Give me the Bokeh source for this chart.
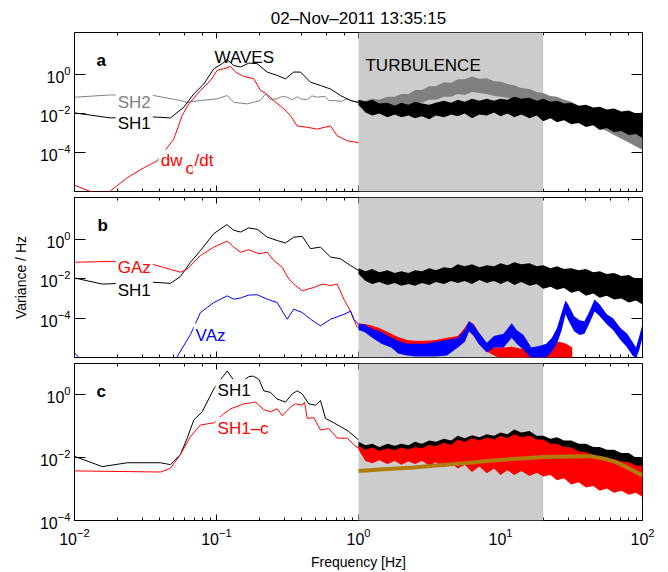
from bokeh.plotting import figure
from bokeh.layouts import column
from bokeh.models import (LogAxis, FixedTicker, LogTicker, BoxAnnotation, Label,
                          Range1d, CustomJSTickFormatter)
from bokeh.embed import file_html
from bokeh.resources import INLINE

FONT = "Liberation Sans"

# ---------------- data ----------------
TITLE = "02\u2013Nov\u20132011 13:35:15"
X_RANGE = (0.01, 100.0)
TURBULENCE_BAND = (1.0, 20.0)
Y_TICKS = [1e-4, 1e-2, 1.0]
YLIM_AB = (1e-6, 141.0)
YLIM_C = (1e-4, 10.0)

# frequencies at which the envelopes of the dense (noisy) spectra above 1 Hz were read
turb_f = [1.0, 1.12, 1.25, 1.4, 1.6, 1.8, 2.0, 2.25, 2.5, 2.8, 3.15, 3.5, 4.0, 4.5, 5.0, 5.6,
          6.3, 7.1, 8.0, 9.0, 10, 11.2, 12.5, 14, 16, 18, 20, 22.5, 25, 28, 31.5, 35.5, 40,
          45, 50, 56, 63, 71, 80, 90, 100]

# panel a -- SH1 (black)
a_sh1_f = [0.0100, 0.0179, 0.0361, 0.0474, 0.0589, 0.0692, 0.0815, 0.0957, 0.1096, 0.1189,
           0.1324, 0.1476, 0.1687, 0.1936, 0.2275, 0.2673, 0.3062, 0.3499, 0.3908, 0.4592,
           0.5395, 0.6353, 0.7464, 0.8790, 1.0]
a_sh1_v = [1.07e-2, 5.9e-3, 6.6e-3, 5.9e-3, 2.1e-2, 0.10, 0.33, 1.95, 3.55, 5.75,
           2.88, 2.40, 3.80, 3.55, 1.32, 0.89, 0.60, 1.32, 1.32, 0.40,
           0.27, 0.18, 0.083, 0.046, 0.037]
a_sh1_hi = [5.0e-2, 4.0e-2, 5.0e-2, 3.2e-2, 3.5e-2, 2.5e-2, 3.5e-2, 2.8e-2, 4.0e-2, 3.2e-2,
            2.8e-2, 3.5e-2, 4.5e-2, 3.5e-2, 5.0e-2, 4.0e-2, 5.6e-2, 4.5e-2, 5.6e-2, 4.5e-2,
            5.6e-2, 5.0e-2, 7.1e-2, 5.6e-2, 6.3e-2, 4.5e-2, 5.6e-2, 4.0e-2, 4.5e-2, 3.2e-2,
            3.5e-2, 2.5e-2, 2.8e-2, 2.0e-2, 2.2e-2, 1.6e-2, 1.8e-2, 1.26e-2, 1.4e-2, 1.0e-2,
            1.12e-2]
a_sh1_lo = [2.8e-2, 1.12e-2, 7.9e-3, 1.0e-2, 6.3e-3, 8.9e-3, 6.3e-3, 7.9e-3, 5.6e-3, 7.1e-3,
            5.0e-3, 7.9e-3, 6.3e-3, 8.9e-3, 7.1e-3, 1.0e-2, 5.6e-3, 8.9e-3, 7.9e-3, 1.12e-2,
            7.1e-3, 1.0e-2, 6.3e-3, 8.9e-3, 5.6e-3, 7.9e-3, 4.0e-3, 5.6e-3, 3.5e-3, 4.5e-3,
            2.8e-3, 3.2e-3, 2.0e-3, 2.5e-3, 1.4e-3, 1.8e-3, 1.12e-3, 1.26e-3, 7.9e-4, 8.9e-4,
            5.6e-4]

# panel a -- SH2 (grey)
a_sh2_f = [0.0100, 0.0179, 0.0361, 0.0557, 0.0622, 0.0771, 0.1012, 0.1189, 0.1324, 0.1644,
           0.2042, 0.2213, 0.2400, 0.2673, 0.2900, 0.3148, 0.3400, 0.3700, 0.3908, 0.4300,
           0.4700, 0.5117, 0.5800, 0.6200, 0.6699, 0.7600, 0.8318, 0.9300, 1.0]
a_sh2_v = [0.068, 0.089, 0.083, 0.046, 0.037, 0.046, 0.056, 0.083, 0.037, 0.031,
           0.046, 0.10, 0.052, 0.056, 0.075, 0.068, 0.050, 0.072, 0.056, 0.050,
           0.080, 0.068, 0.075, 0.045, 0.046, 0.042, 0.056, 0.040, 0.037]
a_sh2_hi = [5.0e-2, 4.5e-2, 5.6e-2, 5.0e-2, 7.1e-2, 7.1e-2, 0.10, 0.10, 0.16, 0.16,
            0.25, 0.25, 0.40, 0.38, 0.56, 0.56, 0.79, 0.60, 0.63, 0.45,
            0.42, 0.32, 0.28, 0.20, 0.18, 0.126, 0.112, 7.9e-2, 7.1e-2, 5.0e-2,
            4.0e-2, 2.5e-2, 2.0e-2, 1.26e-2, 1.0e-2, 6.3e-3, 5.0e-3, 3.2e-3, 2.2e-3, 1.4e-3,
            1.0e-3]
a_sh2_lo = [2.5e-2, 1.8e-2, 2.0e-2, 1.66e-2, 2.2e-2, 2.0e-2, 2.8e-2, 2.5e-2, 3.5e-2, 3.5e-2,
            5.0e-2, 5.0e-2, 7.1e-2, 7.1e-2, 0.10, 8.9e-2, 0.126, 0.112, 0.10, 7.9e-2,
            7.1e-2, 6.3e-2, 5.0e-2, 4.5e-2, 3.5e-2, 3.2e-2, 2.8e-2, 2.0e-2, 1.8e-2, 1.26e-2,
            8.9e-3, 5.6e-3, 4.0e-3, 2.5e-3, 1.8e-3, 1.26e-3, 7.9e-4, 5.0e-4, 3.2e-4, 2.0e-4,
            1.4e-4]

# panel a -- dw0/dt (red)
a_dw_f = [0.0100, 0.0133, 0.0175, 0.0235, 0.0308, 0.0382, 0.0500, 0.0573, 0.0638, 0.0771,
          0.0908, 0.1012, 0.1125, 0.1256, 0.1361, 0.1556, 0.1832, 0.2042, 0.2213, 0.2535,
          0.2979, 0.3319, 0.3698, 0.4355, 0.5117, 0.6353, 0.7079, 0.8318, 1.0]
a_dw_v = [2.1e-6, 9.3e-7, 9.3e-7, 5.1e-6, 1.66e-5, 3.7e-5, 4.9e-4, 7.8e-3, 3.1e-2, 0.15,
          0.49, 1.62, 1.95, 2.57, 1.32, 0.79, 0.60, 0.15, 0.11, 0.046,
          0.017, 7.8e-3, 2.3e-3, 1.95e-3, 1.58e-3, 2.3e-3, 7.2e-4, 4.0e-4, 3.2e-4]

# panel b -- SH1 (black)
b_sh1_f = [0.0100, 0.0157, 0.0361, 0.0474, 0.0557, 0.0656, 0.0771, 0.0957, 0.1182, 0.1324,
           0.1476, 0.1687, 0.1936, 0.2275, 0.2673, 0.3062, 0.3499, 0.4018, 0.4592, 0.5395,
           0.6353, 0.7464, 0.8790, 1.0]
b_sh1_v = [1.12e-2, 5.5e-3, 6.8e-3, 6.0e-3, 1.32e-2, 7.1e-2, 0.28, 2.04, 5.9, 3.02,
           2.45, 3.98, 3.39, 1.35, 0.91, 0.68, 1.35, 1.48, 0.35, 0.42,
           0.13, 0.107, 0.048, 0.027]
b_sh1_hi = [3.5e-2, 2.5e-2, 3.2e-2, 2.2e-2, 2.8e-2, 2.0e-2, 2.5e-2, 2.0e-2, 2.8e-2, 2.5e-2,
            3.5e-2, 2.8e-2, 4.0e-2, 3.5e-2, 5.6e-2, 4.5e-2, 5.6e-2, 4.0e-2, 5.0e-2, 4.5e-2,
            6.3e-2, 5.0e-2, 7.1e-2, 5.6e-2, 6.3e-2, 4.5e-2, 5.0e-2, 3.5e-2, 4.5e-2, 3.2e-2,
            3.5e-2, 2.8e-2, 3.2e-2, 2.2e-2, 2.5e-2, 1.8e-2, 2.0e-2, 1.4e-2, 1.6e-2, 1.0e-2,
            1.12e-2]
b_sh1_lo = [1.8e-2, 7.9e-3, 5.6e-3, 7.1e-3, 5.0e-3, 6.3e-3, 4.5e-3, 5.6e-3, 4.5e-3, 6.3e-3,
            5.0e-3, 7.1e-3, 5.6e-3, 7.9e-3, 6.3e-3, 7.9e-3, 5.6e-3, 8.9e-3, 6.3e-3, 7.9e-3,
            5.6e-3, 7.9e-3, 5.0e-3, 7.1e-3, 4.5e-3, 5.6e-3, 3.2e-3, 4.0e-3, 2.8e-3, 3.5e-3,
            2.0e-3, 2.5e-3, 1.4e-3, 1.8e-3, 1.12e-3, 1.4e-3, 8.9e-4, 1.0e-3, 6.3e-4, 7.9e-4,
            5.0e-4]

# panel b -- GAz (red)
b_gaz_f = [0.0100, 0.0185, 0.0361, 0.0557, 0.0622, 0.0771, 0.0957, 0.1189, 0.1324, 0.1476,
           0.1687, 0.1986, 0.2275, 0.2535, 0.2904, 0.3228, 0.3597, 0.4018, 0.4842, 0.5546,
           0.6353, 0.7079, 0.7889, 0.8790, 0.9795]
b_gaz_v = [0.071, 0.079, 0.054, 0.022, 0.032, 0.155, 0.42, 0.85, 0.42, 0.23,
           0.31, 0.19, 0.23, 0.087, 0.039, 0.010, 4.6e-3, 2.5e-3, 3.7e-3, 5.5e-3,
           4.6e-3, 5.5e-3, 9.3e-4, 2.3e-4, 3.3e-5]
b_gaz_band_f = [1.0, 1.2, 1.4, 1.6, 1.9, 2.2, 2.5, 3.0, 3.5, 4.2, 5.0, 5.6, 6.0, 6.5, 7.0, 8.0,
                9.0, 10.5, 12, 14, 16, 18, 20, 23, 26, 29, 32]
b_gaz_hi = [5.6e-5, 4.5e-5, 3.2e-5, 2.0e-5, 1.12e-5, 7.9e-6, 7.1e-6, 7.1e-6, 7.9e-6, 1.0e-5,
            1.26e-5, 3.2e-5, 7.1e-5, 5.0e-5, 2.0e-5, 5.0e-6, 3.2e-6, 3.2e-6, 3.5e-6, 2.8e-6,
            2.5e-6, 2.2e-6, 3.2e-6, 5.0e-6, 6.3e-6, 5.0e-6, 3.2e-6]
b_gaz_lo = [3.2e-5, 1.6e-5, 1.0e-5, 6.3e-6, 4.0e-6, 2.8e-6, 2.5e-6, 2.2e-6, 2.5e-6, 3.2e-6,
            3.5e-6, 6.3e-6, 2.2e-5, 1.26e-5, 6.3e-6, 2.0e-6, 1.26e-6, 8e-7, 8e-7, 8e-7,
            8e-7, 8e-7, 8e-7, 8e-7, 8e-7, 8e-7, 8e-7]

# panel b -- VAz (blue)
b_vaz_f = [0.0100, 0.0110, 0.0514, 0.0656, 0.0771, 0.0957, 0.1189, 0.1324, 0.1476, 0.1687,
           0.1936, 0.2275, 0.2673, 0.3148, 0.3499, 0.4018, 0.4592, 0.5395, 0.6353, 0.7889,
           0.8790, 0.9268, 1.0]
b_vaz_v = [1.74e-6, 8e-7, 8e-7, 1.5e-5, 1.95e-4, 6.3e-4, 1.38e-3, 9.3e-4, 1.07e-3, 1.51e-3,
           1.58e-3, 9.3e-4, 6.3e-4, 8.9e-5, 2.9e-4, 1.95e-4, 8.9e-5, 4.1e-5, 8.9e-5, 1.58e-4,
           2.3e-4, 8.9e-5, 4.9e-5]
b_vaz_band_f = [1.0, 1.1, 1.25, 1.45, 1.7, 1.9, 2.2, 2.5, 3.0, 3.5, 4.2, 5.0, 5.6, 6.0, 6.4,
                7.0, 8.0, 9.0, 10.5, 12, 13, 14.5, 16.5, 19, 21, 23, 25, 27, 28.7, 30,
                33, 36, 39, 42, 46, 50, 56, 62, 70, 78, 85, 90, 95, 100]
b_vaz_hi = [5.0e-5, 5.0e-5, 2.8e-5, 2.0e-5, 1.0e-5, 7.1e-6, 5.0e-6, 5.0e-6, 5.0e-6, 6.3e-6,
            7.9e-6, 1.0e-5, 2.5e-5, 7.1e-5, 5.0e-5, 2.0e-5, 5.6e-6, 1.26e-5, 1.6e-5, 5.6e-5,
            2.5e-5, 1.4e-5, 3.2e-6, 4.0e-6, 5.0e-6, 1.0e-5, 3.2e-5, 2.0e-4, 7.9e-4, 5.0e-4,
            1.26e-4, 7.9e-5, 7.1e-5, 2.0e-4, 8.9e-4, 5.0e-4, 1.6e-4, 1.0e-4, 3.2e-5, 1.6e-5,
            6.3e-6, 3.2e-6, 1.26e-5, 5.0e-5]
b_vaz_lo = [2.5e-5, 2.0e-5, 1.0e-5, 5.0e-6, 3.2e-6, 1.6e-6, 1.26e-6, 1.12e-6, 1.12e-6, 1.12e-6,
            1.26e-6, 3.2e-6, 6.3e-6, 2.2e-5, 1.4e-5, 5.0e-6, 1.8e-6, 3.2e-6, 3.2e-6, 1.0e-5,
            5.0e-6, 2.5e-6, 8.9e-7, 8.9e-7, 1.0e-6, 2.0e-6, 5.0e-6, 2.5e-5, 1.6e-4, 7.9e-5,
            2.2e-5, 1.4e-5, 1.6e-5, 5.0e-5, 2.2e-4, 1.26e-4, 5.0e-5, 2.5e-5, 7.9e-6, 3.2e-6,
            1.26e-6, 8.9e-7, 2.5e-6, 1.0e-5]

# panel c -- SH1 (black)
c_sh1_f = [0.0100, 0.0157, 0.0235, 0.0404, 0.0474, 0.0557, 0.0622, 0.0692, 0.0793, 0.0957,
           0.1096, 0.1189, 0.1324, 0.1476, 0.1687, 0.1811, 0.1986, 0.2153, 0.2399, 0.2673,
           0.3062, 0.3412, 0.3698, 0.4018, 0.4467, 0.4977, 0.5395, 0.5861, 0.6531, 0.7464,
           0.8551, 1.0]
c_sh1_v = [1.1e-2, 5.2e-3, 6.9e-3, 6.9e-3, 6.0e-3, 1.26e-2, 4.2e-2, 0.158, 0.29, 1.55,
           3.55, 5.75, 2.9, 2.4, 3.8, 3.98, 3.16, 1.35, 1.2, 0.74,
           0.59, 1.07, 1.35, 1.07, 0.52, 0.47, 0.66, 0.178, 0.138, 0.098,
           0.068, 0.037]
c_sh1_hi = [3.2e-2, 2.5e-2, 2.8e-2, 2.2e-2, 2.8e-2, 2.4e-2, 2.8e-2, 2.5e-2, 3.2e-2, 2.8e-2,
            3.5e-2, 3.2e-2, 4.0e-2, 3.5e-2, 5.0e-2, 4.2e-2, 5.2e-2, 4.5e-2, 5.6e-2, 5.0e-2,
            6.3e-2, 5.6e-2, 7.9e-2, 6.3e-2, 7.1e-2, 5.0e-2, 5.0e-2, 4.0e-2, 4.5e-2, 3.5e-2,
            3.5e-2, 2.8e-2, 2.8e-2, 2.2e-2, 2.2e-2, 1.8e-2, 1.8e-2, 1.4e-2, 1.4e-2, 1.0e-2,
            1.0e-2]
c_sh1_lo = [2.2e-2, 1.12e-2, 8.9e-3, 1.12e-2, 8.3e-3, 1.05e-2, 8.3e-3, 1.0e-2, 8.3e-3, 1.05e-2,
            8.9e-3, 1.12e-2, 9.3e-3, 1.2e-2, 1.0e-2, 1.2e-2, 1.0e-2, 1.26e-2, 1.05e-2, 1.26e-2,
            1.05e-2, 1.2e-2, 1.0e-2, 1.17e-2, 8.9e-3, 1.05e-2, 7.9e-3, 8.9e-3, 6.6e-3, 7.6e-3,
            5.6e-3, 6.3e-3, 4.7e-3, 5.2e-3, 3.8e-3, 4.2e-3, 3.0e-3, 3.2e-3, 2.2e-3, 2.4e-3,
            1.58e-3]

# panel c -- SH1-c (red)
c_sh1c_f = [0.0100, 0.0404, 0.0474, 0.0557, 0.0656, 0.0771, 0.0957, 0.1125, 0.1256, 0.1556,
            0.1884, 0.2153, 0.2399, 0.2673, 0.2904, 0.3319, 0.3597, 0.4018, 0.4169, 0.4355,
            0.4842, 0.5395, 0.6180, 0.7079, 0.8318, 0.9268, 1.0]
c_sh1c_v = [3.8e-3, 3.5e-3, 4.6e-3, 1.26e-2, 4.7e-2, 0.11, 0.129, 0.25, 0.36, 0.52,
            0.59, 0.34, 0.29, 0.36, 0.22, 0.41, 0.52, 0.47, 0.59, 0.178,
            0.19, 0.076, 0.085, 0.042, 0.042, 0.026, 0.020]
c_sh1c_hi = [2.4e-2, 1.8e-2, 2.1e-2, 1.66e-2, 2.0e-2, 1.74e-2, 2.1e-2, 1.82e-2, 2.2e-2, 2.0e-2,
             2.6e-2, 2.3e-2, 3.0e-2, 2.6e-2, 3.8e-2, 3.2e-2, 4.2e-2, 3.5e-2, 4.4e-2, 3.8e-2,
             5.0e-2, 4.2e-2, 5.6e-2, 4.6e-2, 5.0e-2, 3.8e-2, 3.8e-2, 2.8e-2, 2.8e-2, 2.2e-2,
             2.1e-2, 1.58e-2, 1.5e-2, 1.2e-2, 1.12e-2, 9.5e-3, 8.9e-3, 7.6e-3, 7.1e-3, 5.6e-3,
             5.6e-3]
c_sh1c_lo = [1.8e-2, 7.9e-3, 6.6e-3, 8.3e-3, 6.3e-3, 7.9e-3, 6.0e-3, 7.6e-3, 6.3e-3, 7.9e-3,
             5.6e-3, 7.1e-3, 5.0e-3, 6.6e-3, 4.5e-3, 6.0e-3, 3.5e-3, 5.2e-3, 3.2e-3, 4.5e-3,
             2.8e-3, 4.0e-3, 2.8e-3, 3.8e-3, 2.6e-3, 3.3e-3, 2.5e-3, 2.8e-3, 1.9e-3, 2.2e-3,
             1.4e-3, 1.66e-3, 1.12e-3, 1.26e-3, 8.9e-4, 1.05e-3, 7.6e-4, 8.9e-4, 6.6e-4, 7.6e-4,
             5.6e-4]

# panel c -- model fit (brown)
c_fit_f = [1.0, 1.5, 2.45, 3.5, 5.5, 8.0, 13.1, 20.2, 30, 43, 56, 65, 74, 85, 100]
c_fit_v = [3.8e-3, 4.3e-3, 4.9e-3, 5.6e-3, 6.6e-3, 7.9e-3, 9.3e-3, 1.05e-2, 1.1e-2, 1.12e-2,
           8.9e-3, 7.2e-3, 5.5e-3, 4.0e-3, 2.7e-3]

BLACK, GREY, RED, BLUE, BROWN = "black", "#808080", "#ff0000", "#0000ff", "#b07d0c"
EMPTY = "return '';"


def style_axis(ax, major_in, minor_in, labels):
    ax.major_tick_in = major_in
    ax.major_tick_out = 0
    ax.minor_tick_in = minor_in
    ax.minor_tick_out = 0
    ax.axis_line_color = "black"
    ax.major_tick_line_color = "black"
    ax.minor_tick_line_color = "black"
    ax.major_label_text_font = FONT
    ax.major_label_text_font_size = "16px"
    ax.major_label_text_color = "black"
    ax.axis_label_text_font = FONT
    ax.axis_label_text_font_size = "14px"
    ax.axis_label_text_font_style = "normal"
    ax.axis_label_text_color = "black"
    if not labels:
        ax.formatter = CustomJSTickFormatter(code=EMPTY)
        ax.major_label_standoff = 0
        ax.level = "image"   # tick-only axis: painted beneath the shaded band


def make_panel(height, ylim, top, bottom, title=None):
    p = figure(width=668, height=height, x_axis_type="log", y_axis_type="log",
               x_range=Range1d(*X_RANGE), y_range=Range1d(*ylim),
               output_backend="svg", toolbar_location=None,
               min_border_left=74, min_border_right=26,
               min_border_top=top, min_border_bottom=bottom, title=title)
    p.grid.visible = False
    p.outline_line_color = "black"
    p.outline_line_alpha = 1.0
    p.border_fill_color = "white"
    p.background_fill_color = "white"
    yl = p.left[0]
    yl.ticker = FixedTicker(ticks=Y_TICKS, minor_ticks=[])
    style_axis(yl, 11, 0, True)
    yl.major_label_standoff = 4
    yr = LogAxis(ticker=FixedTicker(ticks=Y_TICKS, minor_ticks=[]))
    style_axis(yr, 11, 0, False)
    p.add_layout(yr, "right")
    xb = p.below[0]
    style_axis(xb, 6, 3, False)
    xt = LogAxis(ticker=LogTicker())
    style_axis(xt, 6, 3, False)
    p.add_layout(xt, "above")
    p.add_layout(BoxAnnotation(left=TURBULENCE_BAND[0], right=TURBULENCE_BAND[1],
                               fill_color="#cccccc", fill_alpha=1.0, line_color=None,
                               level="underlay"))
    return p


def add_label(p, x, y, text, color="black", bg=True, bold=False, size="17px"):
    lab = Label(x=x, y=y, text=text, text_color=color, text_font=FONT,
                text_font_size=size, text_baseline="alphabetic", text_align="left",
                text_font_style="bold" if bold else "normal")
    if bg:
        lab.background_fill_color = "white"
        lab.background_fill_alpha = 1.0
        lab.padding = 2
    p.add_layout(lab)


# ---------------- panel a ----------------
pa = make_panel(194, YLIM_AB, 32, 3, title=TITLE)
pa.title.align = "center"
pa.title.text_font = FONT
pa.title.text_font_size = "17px"
pa.title.text_font_style = "normal"
pa.title.text_color = "black"
pa.varea(x=turb_f, y1=a_sh2_lo, y2=a_sh2_hi, fill_color=GREY)
pa.line(a_sh2_f, a_sh2_v, line_color=GREY, line_width=1)
pa.varea(x=turb_f, y1=a_sh1_lo, y2=a_sh1_hi, fill_color=BLACK)
pa.line(a_sh1_f, a_sh1_v, line_color=BLACK, line_width=1)
pa.line(a_dw_f, a_dw_v, line_color=RED, line_width=1)
add_label(pa, 0.0143, 5.2, "a", bg=False, bold=True)
add_label(pa, 0.0968, 7.6, "WAVES", bg=False)
add_label(pa, 1.12, 2.9, "TURBULENCE", bg=False)
add_label(pa, 0.0195, 0.036, "SH2", color=GREY)
add_label(pa, 0.0195, 2.96e-3, "SH1")
add_label(pa, 0.0392, 3.7e-5, "dw", color=RED)
add_label(pa, 0.0586, 1.6e-5, "o", color=RED)
add_label(pa, 0.0678, 3.7e-5, "/dt", color=RED)

# ---------------- panel b ----------------
pb = make_panel(166, YLIM_AB, 3, 3)
pb.left[0].axis_label = "Variance / Hz"
pb.left[0].axis_label_standoff = 8
pb.varea(x=turb_f, y1=b_sh1_lo, y2=b_sh1_hi, fill_color=BLACK)
pb.line(b_sh1_f, b_sh1_v, line_color=BLACK, line_width=1)
pb.varea(x=b_gaz_band_f, y1=b_gaz_lo, y2=b_gaz_hi, fill_color=RED)
pb.line(b_gaz_f, b_gaz_v, line_color=RED, line_width=1)
pb.varea(x=b_vaz_band_f, y1=b_vaz_lo, y2=b_vaz_hi, fill_color=BLUE)
pb.line(b_vaz_f, b_vaz_v, line_color=BLUE, line_width=1)
add_label(pb, 0.0145, 5.4, "b", bg=False, bold=True)
add_label(pb, 0.0195, 0.038, "GAz", color=RED)
add_label(pb, 0.0195, 2.5e-3, "SH1")
add_label(pb, 0.0690, 1.38e-5, "VAz", color=BLUE)

# ---------------- panel c ----------------
pc = make_panel(212, YLIM_C, 3, 50)
xlab = LogAxis(ticker=LogTicker(), axis_label="Frequency [Hz]")
style_axis(xlab, 0, 0, True)
xlab.axis_line_color = None
xlab.major_tick_line_color = None
xlab.minor_tick_line_color = None
xlab.major_label_standoff = 7
xlab.axis_label_standoff = 6
pc.add_layout(xlab, "below")
pc.varea(x=turb_f, y1=c_sh1_lo, y2=c_sh1_hi, fill_color=BLACK)
pc.line(c_sh1_f, c_sh1_v, line_color=BLACK, line_width=1)
pc.varea(x=turb_f, y1=c_sh1c_lo, y2=c_sh1c_hi, fill_color=RED)
pc.line(c_sh1c_f, c_sh1c_v, line_color=RED, line_width=1)
pc.line(c_fit_f, c_fit_v, line_color=BROWN, line_width=4)
add_label(pc, 0.0143, 1.26, "c", bg=False, bold=True)
add_label(pc, 0.0985, 1.35, "SH1")
add_label(pc, 0.0985, 0.083, "SH1\u2013c", color=RED)

layout = column(pa, pb, pc, spacing=0)
open("out.html", "w").write(file_html(layout, INLINE))
